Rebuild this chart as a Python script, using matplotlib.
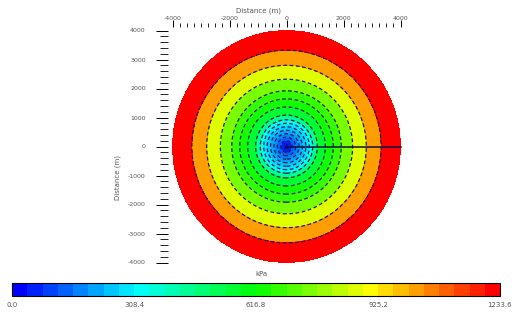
import numpy as np
import matplotlib
matplotlib.use("Agg")
import matplotlib.pyplot as plt
from matplotlib.colors import LinearSegmentedColormap, Normalize
from matplotlib.ticker import MultipleLocator
import matplotlib.cm as cm

# ---- data ----
plate_radius = 4000.0          # m
value_max = 1233.6             # colour scale maximum
# radial profile (distance from centre in m, value)
profile_r = [0.0, 920.0, 1080.0, 1360.0, 1640.0, 1920.0, 2320.0, 2800.0, 3320.0, 4000.0]
profile_v = [0.0, 345.0, 456.0, 543.0, 617.0, 678.0, 752.0, 851.0, 1024.0, 1233.6]
# contour levels (value units), dense near the centre
contour_levels = [30.0, 75.0, 120.0, 165.0, 210.0, 255.0, 300.0, 345.0,
                  456.0, 543.0, 617.0, 678.0, 752.0, 851.0, 1024.0, 1233.6]
cbar_ticks = [0.0, 308.4, 616.8, 925.2, 1233.6]
cbar_ticklabels = ["0.0", "308.4", "616.8", "925.2", "1233.6"]
x_major = [-4000, -2000, 0, 2000, 4000]
y_major = [-4000, -3000, -2000, -1000, 0, 1000, 2000, 3000, 4000]

# colour map: 32 discrete steps, blue-cyan-green-yellow-red
cmap = LinearSegmentedColormap.from_list(
    "rainbow32",
    [(0.0, "#0000ff"), (0.25, "#00ffff"), (0.5, "#00ff00"),
     (0.74, "#ffff00"), (1.0, "#ff0000")], N=32)
norm = Normalize(0.0, value_max)

fig = plt.figure(figsize=(5.31, 3.22), dpi=100)
ax = fig.add_axes([168/531, 1-266/322, 237/531, 239/322])

# grid field
g = np.linspace(-plate_radius, plate_radius, 801)
X, Y = np.meshgrid(g, g)
Rg = np.hypot(X, Y)
Z = np.interp(Rg, profile_r, profile_v)
Z = np.where(Rg <= plate_radius, Z, np.nan)

fill_levels = [0.0] + contour_levels
band_colors = [cmap(norm(v)) for v in contour_levels]
ax.contourf(X, Y, Z, levels=fill_levels, colors=band_colors)
ax.contour(X, Y, Z, levels=contour_levels[:-1], colors="#1a1a50",
           linewidths=0.9, linestyles=[(0, (3, 2))])

# radius line
ax.plot([0, plate_radius], [0, 0], color="#101040", lw=1.1)

ax.set_xlim(-plate_radius*118.5/114, plate_radius*118.5/114)
ax.set_ylim(-plate_radius*119.5/116, plate_radius*119.5/116)

for s in ax.spines.values():
    s.set_visible(False)
ax.xaxis.tick_top()
ax.set_xticks(x_major)
ax.set_xticklabels([str(v) for v in x_major])
ax.set_yticks(y_major)
ax.set_yticklabels([str(v) for v in y_major])
ax.xaxis.set_minor_locator(MultipleLocator(250))
ax.yaxis.set_minor_locator(MultipleLocator(200))
ax.tick_params(which="major", direction="out", length=5, width=0.7,
               labelsize=4.5, labelcolor="#555555")
ax.tick_params(which="minor", direction="out", length=3, width=0.6)
ax.tick_params(axis="x", which="major", pad=-0.5)
ax.tick_params(axis="y", which="major", pad=7, length=9)
ax.tick_params(axis="y", which="minor", length=6)

fig.text(258/531, 1-11/322, "Distance (m)", fontsize=5, color="#555555",
         ha="center", va="center")
fig.text(118/531, 1-178/322, "Distance (m)", fontsize=5, color="#555555",
         ha="center", va="center", rotation=90)

# colorbar
cax = fig.add_axes([12/531, 1-296/322, 488/531, 13/322])
sm = cm.ScalarMappable(norm=norm, cmap=cmap)
cb = fig.colorbar(sm, cax=cax, orientation="horizontal")
cb.set_ticks(cbar_ticks)
cb.set_ticklabels(cbar_ticklabels)
cb.outline.set_edgecolor("black")
cb.outline.set_linewidth(0.8)
cax.tick_params(length=0, labelsize=5, labelcolor="#555555", pad=4)
fig.text(261/531, 1-274/322, "kPa", fontsize=5, color="#555555",
         ha="center", va="center")

fig.savefig("out.png", dpi=100)
